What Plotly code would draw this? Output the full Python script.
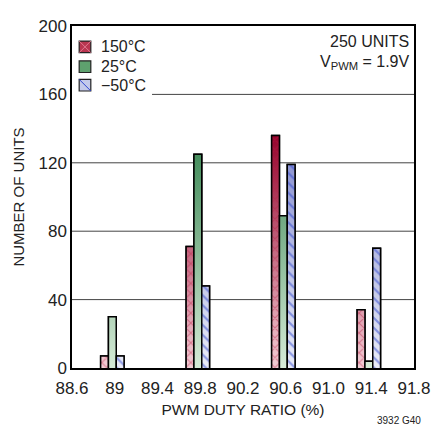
import plotly.graph_objects as go

# duty ratio bins (%) and unit counts per temperature
duty = [89.0, 89.8, 90.6, 91.4]
units_150 = [7, 71, 136, 34]
units_25 = [30, 125, 89, 4]
units_m50 = [7, 48, 119, 70]

x_ticks = [88.6, 89.0, 89.4, 89.8, 90.2, 90.6, 91.0, 91.4, 91.8]
x_labels = ["88.6", "89", "89.4", "89.8", "90.2", "90.6", "91.0", "91.4", "91.8"]
y_ticks = [0, 40, 80, 120, 160, 200]

FONT = "Liberation Sans, Arial, sans-serif"
BAR_W = 0.073

series = [
    dict(name="150°C", y=units_150, off=-0.132, flat="#b93550", light="#f6d6dc", dark="#94002a",
         shape="x", fg="rgba(185,25,65,0.85)"),
    dict(name="25°C", y=units_25, off=-0.059, flat="#5ea16e", light="#dcefdc", dark="#368450",
         shape="", fg="#368450"),
    dict(name="\u221250°C", y=units_m50, off=0.014, flat="#c4c9ea", light="#eef0fa", dark="#8088cc",
         shape="\\", fg="#2f45d0"),
]

fig = go.Figure()

# plain bars underneath
for s in series:
    fig.add_trace(go.Bar(
        x=duty, y=s["y"], name=s["name"], width=BAR_W, offset=s["off"], showlegend=False,
        marker=dict(color=s["flat"], line=dict(color="black", width=1.5)),
    ))


def outline(xc, ys, off):
    xs, yy = [], []
    for c, v in zip(xc, ys):
        x0, x1 = c + off, c + off + BAR_W
        xs += [x0, x0, x1, x1, None]
        yy += [0, v, v, 0, None]
    return xs, yy


# vertical gradient fill, then pattern + outline on top of each bar
for s in series:
    xs, yy = outline(duty, s["y"], s["off"])
    fig.add_trace(go.Scatter(
        x=xs, y=yy, mode="lines", fill="toself", line=dict(width=0),
        fillgradient=dict(type="vertical", start=0, stop=140,
                          colorscale=[[0, s["light"]], [1, s["dark"]]]),
        showlegend=False, hoverinfo="skip",
    ))
    fig.add_trace(go.Scatter(
        x=xs, y=yy, mode="lines", fill="toself" if s["shape"] else "none",
        fillcolor="rgba(0,0,0,0)",
        fillpattern=dict(shape=s["shape"], fgcolor=s["fg"], bgcolor="rgba(0,0,0,0)",
                         size=7, solidity=0.3) if s["shape"] else None,
        line=dict(color="black", width=1.5),
        name=s["name"], showlegend=False,
    ))

# horizontal grid lines; the 160 one stops short of the legend
for g in [40, 80, 120]:
    fig.add_shape(type="line", xref="paper", x0=0, x1=1, y0=g, y1=g,
                  line=dict(color="#444", width=1), layer="below")
fig.add_shape(type="line", xref="paper", x0=0.234, x1=1, y0=160, y1=160,
              line=dict(color="#444", width=1), layer="below")

# legend: swatches + labels
leg_y = [0.939, 0.881, 0.827]
for s, ly in zip(series, leg_y):
    x0, x1, y0, y1 = 0.021, 0.055, ly - 0.017, ly + 0.017
    fig.add_shape(type="rect", xref="paper", yref="paper", x0=x0, x1=x1, y0=y0, y1=y1,
                  fillcolor=s["flat"], line=dict(color="#222", width=1.2))
    if s["shape"] == "x":
        fig.add_shape(type="line", xref="paper", yref="paper", x0=x0, x1=x1, y0=y1, y1=y0,
                      line=dict(color="#e07890", width=1))
        fig.add_shape(type="line", xref="paper", yref="paper", x0=x0, x1=x1, y0=y0, y1=y1,
                      line=dict(color="#e07890", width=1))
    elif s["shape"] == "\\":
        fig.add_shape(type="line", xref="paper", yref="paper", x0=x0, x1=x1, y0=y1, y1=y0,
                      line=dict(color="#2f45d0", width=1))
    fig.add_annotation(xref="paper", yref="paper", x=0.078, y=ly, xanchor="left", yanchor="middle",
                       text=s["name"], showarrow=False, font=dict(size=16))

fig.add_annotation(xref="paper", yref="paper", x=0.99, y=0.954, xanchor="right", yanchor="middle",
                   text="250 UNITS", showarrow=False, font=dict(size=16))
fig.add_annotation(xref="paper", yref="paper", x=0.99, y=0.892, xanchor="right", yanchor="middle",
                   text="V<sub>PWM</sub> = 1.9V", showarrow=False, font=dict(size=16))
fig.add_annotation(xref="paper", yref="paper", x=1.025, y=-0.154, xanchor="right", yanchor="middle",
                   text="3932 G40", showarrow=False, font=dict(size=10))

# the page body adds an 8px margin, so the figure is 8px smaller than the window
fig.update_layout(
    width=432, height=430,
    margin=dict(l=64, r=17, t=9, b=70),
    plot_bgcolor="white", paper_bgcolor="white",
    barmode="overlay",
    font=dict(family=FONT, size=15, color="#222"),
    showlegend=False,
)
fig.update_xaxes(range=[88.6, 91.8], tickvals=x_ticks, ticktext=x_labels, showgrid=False,
                 zeroline=False, showline=True, linecolor="black", linewidth=1.5, mirror=True,
                 title=dict(text="PWM DUTY RATIO (%)", font=dict(size=15.5), standoff=7),
                 ticks="", tickfont=dict(size=17), ticklabelstandoff=4)
fig.update_yaxes(range=[0, 200], tickvals=y_ticks, showgrid=False, zeroline=False,
                 showline=True, linecolor="black", linewidth=1.5, mirror=True,
                 title=dict(text="NUMBER OF UNITS", font=dict(size=15), standoff=10),
                 ticks="", tickfont=dict(size=17))

fig.write_html("out.html")
